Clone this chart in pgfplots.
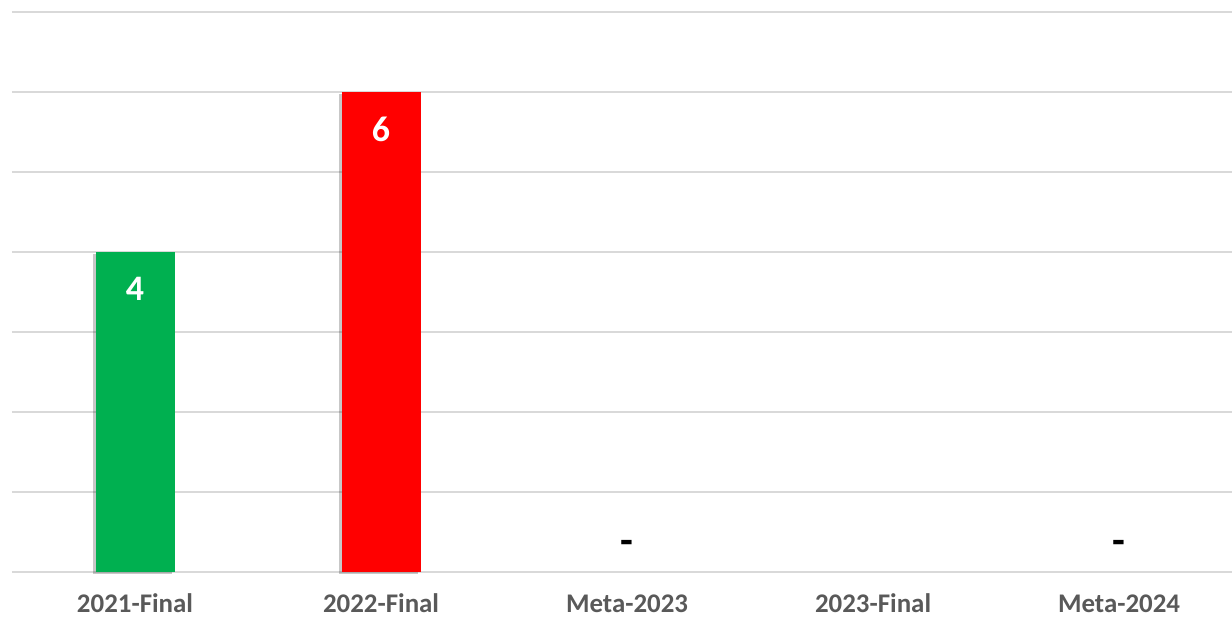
\documentclass[border=0pt]{standalone}
\usepackage{fontspec}
\setmainfont{Carlito}
\usepackage{pgfplots}
\pgfplotsset{compat=1.18}
\definecolor{gridc}{HTML}{D9D9D9}
\definecolor{tickc}{HTML}{595959}
\definecolor{cgreen}{HTML}{00B050}
\definecolor{cred}{HTML}{FF0000}
\begin{document}
\begin{tikzpicture}
\begin{axis}[
  scale only axis,
  width=610bp, height=280bp,
  xmin=-0.5, xmax=4.459,
  ymin=0, ymax=7,
  axis line style={draw=none},
  ymajorgrids, grid style={gridc, line width=0.9bp},
  ytick={0,1,2,3,4,5,6,7},
  yticklabels={},
  major tick length=0pt,
  xtick={0,1,2,3,4},
  xticklabels={2021-Final,2022-Final,Meta-2023,2023-Final,Meta-2024},
  xticklabel style={anchor=base, yshift=-20.5bp, font=\fontsize{13.5}{16}\selectfont\bfseries, text=tickc},
  bar width=39.5bp,
  /pgf/number format/assume math mode=true,
  clip=false,
]
\addplot[ybar, bar shift=0pt, fill=cgreen, draw=none,
  preaction={fill=black, opacity=0.22, transform canvas={xshift=-1.5bp, yshift=-0.8bp}},
  nodes near coords, nodes near coords style={anchor=center, yshift=-18.5bp, text=white, font=\fontsize{18}{21}\selectfont\bfseries}]
  coordinates {(0,4)};
\addplot[ybar, bar shift=0pt, fill=cred, draw=none,
  preaction={fill=black, opacity=0.22, transform canvas={xshift=-1.5bp, yshift=-0.8bp}},
  nodes near coords, nodes near coords style={anchor=center, yshift=-18.5bp, text=white, font=\fontsize{18}{21}\selectfont\bfseries}]
  coordinates {(1,6)};
\addplot[only marks, mark=none, draw=none,
  nodes near coords={\textbf{-}}, nodes near coords style={anchor=center, yshift=12.5bp, text=black, font=\fontsize{21}{24}\selectfont\bfseries}]
  coordinates {(2,0) (4,0)};
\end{axis}
\pgfresetboundingbox
\path[use as bounding box] ([shift={(-6bp,6bp)}]current axis.north west) rectangle ([yshift=-22.5bp]current axis.south east);
\end{tikzpicture}
\end{document}
